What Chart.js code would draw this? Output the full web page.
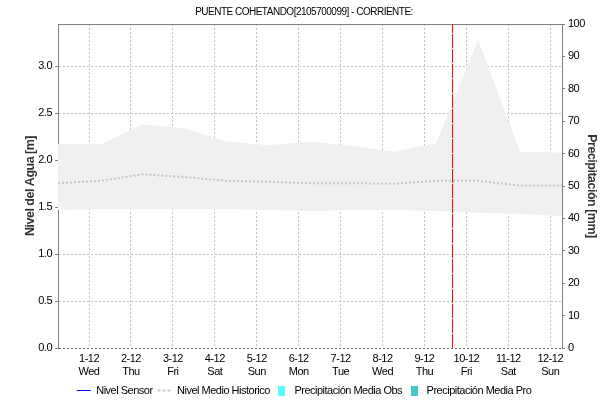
<!DOCTYPE html>
<html>
<head>
<meta charset="utf-8">
<script src="https://cdn.jsdelivr.net/npm/chart.js@4"></script>
<style>
  html, body { margin: 0; padding: 0; background: #ffffff; }
  canvas { display: block; }
</style>
</head>
<body>
<canvas id="chart" width="608" height="404"></canvas>
<script>
// Day-of-month ticks shown under the time axis
const dayLabels = ['1-12', '2-12', '3-12', '4-12', '5-12', '6-12', '7-12', '8-12', '9-12', '10-12', '11-12', '12-12'];
const weekdays = ['Wed', 'Thu', 'Fri', 'Sat', 'Sun', 'Mon', 'Tue', 'Wed', 'Thu', 'Fri', 'Sat', 'Sun'];

// Sampling instants of the historic statistics (day of December, fractional)
const sampleDays = [0.26, 1.28, 2.28, 3.28, 4.28, 5.28, 6.28, 7.28, 8.28, 9.28, 10.28, 11.28, 12.28];

// Historic water level envelope and mean [m]
const histUpper = [2.17, 2.17, 2.38, 2.34, 2.20, 2.16, 2.20, 2.15, 2.09, 2.18, 3.28, 2.09, 2.08];
const histMean  = [1.755, 1.78, 1.85, 1.82, 1.78, 1.77, 1.755, 1.755, 1.75, 1.78, 1.78, 1.73, 1.73];
const histLower = [1.47, 1.48, 1.48, 1.48, 1.48, 1.47, 1.46, 1.47, 1.47, 1.46, 1.44, 1.43, 1.40];

// Sensor level and precipitation series (no readings in this window)
const sensorLevel = [];
const precipObs = [];
const precipForecast = [];

// Current time marker (day of December)
const nowDay = 9.67;

// Axis windows
const timeRange = [0.26, 12.28];
const levelRange = [0, 3.45];
const rainRange = [0, 100];

const FONT = "'Liberation Sans', Arial, Helvetica, sans-serif";
const AXIS_GREY = '#808080';
const GRID_GREY = '#c4c4c4';
const TEXT_TRACKING = '-0.5px';

function pts(xs, ys) { return ys.map((y, i) => ({ x: xs[i], y: y })); }

const ctx = document.getElementById('chart').getContext('2d');

function boxStyle(color) {
  const c = document.createElement('canvas');
  c.width = 7; c.height = 10;
  const g = c.getContext('2d');
  g.fillStyle = color;
  g.fillRect(0, 0, 7, 10);
  return c;
}

const legendStyles = {
  'Nivel Sensor': { pointStyle: 'line', strokeStyle: '#0000ff', lineWidth: 1, lineDash: [] },
  'Nivel Medio Historico': { pointStyle: 'line', strokeStyle: '#c8c8c8', lineWidth: 2, lineDash: [3, 2] },
  'Precipitación Media Obs': { pointStyle: boxStyle('#55ffff'), strokeStyle: '#55ffff', lineWidth: 0, lineDash: [] },
  'Precipitación Media Pro': { pointStyle: boxStyle('#44c8c8'), strokeStyle: '#44c8c8', lineWidth: 0, lineDash: [] }
};

// Slightly condensed lettering for all canvas text
const tracking = {
  id: 'tracking',
  beforeUpdate(chart) { chart.ctx.letterSpacing = TEXT_TRACKING; },
  beforeLayout(chart) { chart.ctx.letterSpacing = TEXT_TRACKING; },
  beforeDraw(chart) { chart.ctx.letterSpacing = TEXT_TRACKING; }
};

new Chart(ctx, {
  type: 'line',
  plugins: [tracking],
  data: {
    datasets: [
      {
        label: 'Nivel Sensor',
        data: sensorLevel,
        borderColor: '#0000ff',
        borderWidth: 1,
        pointRadius: 0,
        yAxisID: 'y',
        order: 1
      },
      {
        label: 'Nivel Medio Historico',
        data: pts(sampleDays, histMean),
        borderColor: '#c4c4c4',
        borderWidth: 2,
        borderDash: [2, 2],
        pointRadius: 0,
        fill: false,
        yAxisID: 'y',
        order: 3
      },
      {
        type: 'bar',
        label: 'Precipitación Media Obs',
        data: precipObs,
        backgroundColor: '#55ffff',
        yAxisID: 'y2',
        order: 5
      },
      {
        type: 'bar',
        label: 'Precipitación Media Pro',
        data: precipForecast,
        backgroundColor: '#44c8c8',
        yAxisID: 'y2',
        order: 5
      },
      {
        label: 'hist-upper',
        data: pts(sampleDays, histUpper),
        borderWidth: 0,
        borderColor: 'rgba(0,0,0,0)',
        backgroundColor: '#f0f0f0',
        pointRadius: 0,
        fill: 5,
        yAxisID: 'y',
        order: 10
      },
      {
        label: 'hist-lower',
        data: pts(sampleDays, histLower),
        borderWidth: 0,
        borderColor: 'rgba(0,0,0,0)',
        pointRadius: 0,
        fill: false,
        yAxisID: 'y',
        order: 10
      },
      {
        label: 'now',
        data: [{ x: nowDay, y: levelRange[0] }, { x: nowDay, y: levelRange[1] }],
        borderColor: '#ff0000',
        borderWidth: 1,
        borderDash: [14, 1],
        pointRadius: 0,
        fill: false,
        yAxisID: 'y',
        order: 0
      }
    ]
  },
  options: {
    responsive: false,
    devicePixelRatio: 1,
    animation: false,
    events: [],
    layout: { padding: { top: 0, right: 0, bottom: -2, left: 0 } },
    plugins: {
      title: {
        display: true,
        text: 'PUENTE COHETANDO[2105700099] - CORRIENTE:',
        color: '#000000',
        font: { family: FONT, size: 10, weight: 'normal', lineHeight: 1.2 },
        padding: { top: 6, bottom: 6 }
      },
      legend: {
        display: true,
        position: 'bottom',
        labels: {
          color: '#000000',
          font: { family: FONT, size: 11 },
          usePointStyle: true,
          pointStyleWidth: 14,
          boxHeight: 10,
          padding: 5,
          generateLabels(chart) {
            return chart.data.datasets
              .map((ds, i) => ({ ds, i }))
              .filter(o => legendStyles[o.ds.label])
              .map(o => {
                const st = legendStyles[o.ds.label];
                return {
                  text: o.ds.label,
                  datasetIndex: o.i,
                  fillStyle: st.strokeStyle,
                  strokeStyle: st.strokeStyle,
                  lineWidth: st.lineWidth,
                  lineDash: st.lineDash,
                  pointStyle: st.pointStyle,
                  fontColor: '#000000',
                  hidden: false
                };
              });
          }
        }
      },
      tooltip: { enabled: false }
    },
    scales: {
      x: {
        type: 'linear',
        position: 'bottom',
        offset: false,
        min: timeRange[0],
        max: timeRange[1],
        afterFit(s) { s.height = 32; },
        ticks: {
          stepSize: 1,
          maxTicksLimit: 20,
          autoSkip: false,
          includeBounds: false,
          maxRotation: 0,
          padding: 4,
          color: '#000000',
          font: { family: FONT, size: 11, lineHeight: 1.2 },
          callback(v) {
            const i = Math.round(v) - 1;
            return [dayLabels[i], weekdays[i]];
          }
        },
        grid: {
          offset: false,
          color: GRID_GREY,
          lineWidth: 1,
          drawTicks: false
        },
        border: { display: false, dash: [2, 2] }
      },
      xTop: {
        type: 'linear',
        position: 'top',
        offset: false,
        min: timeRange[0],
        max: timeRange[1],
        afterFit(s) { s.height = 0; },
        ticks: { display: false },
        grid: { display: false, drawTicks: false },
        border: { display: true, color: AXIS_GREY, width: 1 }
      },
      y: {
        type: 'linear',
        position: 'left',
        min: levelRange[0],
        max: levelRange[1],
        afterFit(s) { s.width = 58; },
        title: {
          display: true,
          text: 'Nivel del Agua [m]',
          color: '#333333',
          font: { family: FONT, size: 12.5, weight: 'bold', lineHeight: 1.2 },
          padding: { top: 23, bottom: 0 }
        },
        ticks: {
          stepSize: 0.5,
          includeBounds: false,
          padding: 3,
          color: '#000000',
          font: { family: FONT, size: 11 },
          callback(v) { return v.toFixed(1); }
        },
        grid: {
          color(c) { return c.tick && c.tick.value === 0 ? '#606060' : GRID_GREY; },
          lineWidth: 1,
          drawTicks: true,
          tickLength: 3,
          tickColor: AXIS_GREY,
          tickBorderDash: []
        },
        border: { display: true, color: AXIS_GREY, width: 1, dash: [2, 2] }
      },
      y2: {
        type: 'linear',
        position: 'right',
        min: rainRange[0],
        max: rainRange[1],
        afterFit(s) { s.width = 46; },
        title: {
          display: true,
          text: 'Precipitación [mm]',
          color: '#333333',
          font: { family: FONT, size: 12.5, weight: 'bold', lineHeight: 1.2 },
          padding: { top: 9.5, bottom: 0 }
        },
        ticks: {
          stepSize: 10,
          padding: 3,
          color: '#000000',
          font: { family: FONT, size: 11 }
        },
        grid: {
          drawOnChartArea: false,
          drawTicks: true,
          tickLength: 3,
          tickColor: AXIS_GREY,
          tickBorderDash: []
        },
        border: { display: true, color: AXIS_GREY, width: 1 }
      }
    }
  }
});
</script>
</body>
</html>
